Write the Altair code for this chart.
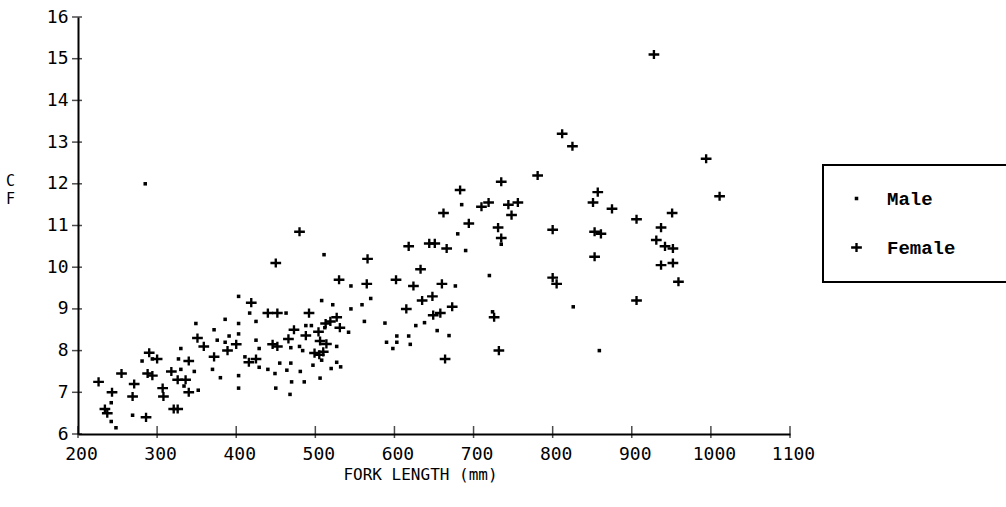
import altair as alt
import pandas as pd

# ---- data (fork length mm, condition factor) ----
female_fl = [226, 243, 234, 237, 255, 271, 269, 286, 290, 300, 288, 294, 307, 308, 318, 326, 336,
             321, 326, 340, 340, 351, 359, 372, 389, 400, 419, 416, 425, 446, 452, 440, 452, 492,
             473, 466, 488, 480, 450, 504, 506, 514, 499, 505, 510, 513, 519, 527, 531, 530, 565,
             566, 602, 633, 624, 660, 648, 635, 615, 673, 649, 658, 664, 618, 644, 651, 666, 662,
             683, 694, 710, 719, 744, 756, 748, 731, 735, 735, 781, 726, 732, 800, 800, 805, 851,
             857, 875, 906, 951, 937, 853, 861, 931, 942, 952, 853, 937, 952, 959, 906, 994, 1011,
             928, 812, 825]
female_cf = [7.25, 7.0, 6.6, 6.5, 7.45, 7.2, 6.9, 6.4, 7.95, 7.8, 7.45, 7.4, 7.1, 6.9, 7.5, 7.3, 7.3,
             6.6, 6.6, 7.0, 7.75, 8.3, 8.1, 7.85, 8.0, 8.15, 9.15, 7.72, 7.8, 8.15, 8.1, 8.9, 8.9, 8.9,
             8.5, 8.28, 8.36, 10.85, 10.1, 8.45, 8.23, 8.16, 7.94, 7.9, 7.97, 8.65, 8.7, 8.8, 8.55, 9.7, 9.6,
             10.2, 9.7, 9.95, 9.55, 9.6, 9.3, 9.2, 9.0, 9.05, 8.85, 8.9, 7.8, 10.5, 10.57, 10.57, 10.45, 11.3,
             11.85, 11.05, 11.45, 11.55, 11.5, 11.55, 11.25, 10.95, 10.7, 12.05, 12.2, 8.8, 8.0, 10.9, 9.75, 9.6, 11.55,
             11.8, 11.4, 11.15, 11.3, 10.95, 10.85, 10.8, 10.65, 10.5, 10.45, 10.25, 10.05, 10.1, 9.65, 9.2, 12.6, 11.7,
             15.1, 13.2, 12.9]

male_fl = [242, 242, 248, 269, 281, 294, 330, 327, 330, 347, 334, 352, 349, 372, 386, 391, 376, 386,
           403, 403, 403, 370, 380, 403, 403, 417, 411, 425, 463, 488, 425, 429, 429, 440, 449, 455,
           469, 464, 480, 484, 469, 481, 470, 486, 450, 468, 285, 511, 545, 570, 559, 545, 522, 508,
           562, 512, 495, 542, 527, 508, 497, 520, 532, 527, 506, 590, 603, 603, 618, 598, 620, 627,
           638, 654, 669, 588, 685, 680, 735, 690, 720, 677, 724, 826, 859]
male_cf = [6.75, 6.3, 6.15, 6.45, 7.75, 7.8, 8.05, 7.8, 7.55, 7.5, 7.15, 7.05, 8.65, 8.5, 8.75, 8.35, 8.25, 8.2,
           9.3, 8.65, 8.4, 7.55, 7.35, 7.4, 7.1, 8.9, 7.85, 8.7, 8.9, 8.6, 8.25, 8.05, 7.6, 7.55, 7.45, 7.7,
           7.7, 7.53, 8.1, 8.0, 8.07, 7.5, 7.25, 7.25, 7.1, 6.95, 12.0, 10.3, 9.55, 9.25, 9.1, 9.0, 9.1, 9.2,
           8.7, 8.55, 8.6, 8.44, 8.1, 7.77, 7.65, 7.57, 7.61, 7.72, 7.34, 8.2, 8.2, 8.35, 8.35, 8.05, 8.15, 8.6,
           8.67, 8.48, 8.36, 8.66, 11.5, 10.8, 10.55, 10.4, 9.8, 9.55, 8.93, 9.05, 8.0]

x_ticks = [200, 300, 400, 500, 600, 700, 800, 900, 1000, 1100]
y_ticks = [6, 7, 8, 9, 10, 11, 12, 13, 14, 15, 16]
groups = ["Male", "Female"]

df = pd.concat([
    pd.DataFrame({"fl": male_fl, "cf": male_cf, "sex": groups[0]}),
    pd.DataFrame({"fl": female_fl, "cf": female_cf, "sex": groups[1]}),
])
xt = pd.DataFrame({"fl": x_ticks})
yt = pd.DataFrame({"cf": y_ticks})

PLUS = "M-1,-0.23L1,-0.23L1,0.23L-1,0.23Z M-0.22,-0.85L0.22,-0.85L0.22,0.85L-0.22,0.85Z"
DOT = "M-0.33,-0.33L0.33,-0.33L0.33,0.33L-0.33,0.33Z"
MONO = "DejaVu Sans Mono"

xscale = alt.Scale(domain=[200, 1100], nice=False, zero=False)
yscale = alt.Scale(domain=[6, 16], nice=False, zero=False)

x_axis = alt.Axis(values=x_ticks, format="d", title="FORK LENGTH (mm)", ticks=False, grid=False,
                  domainColor="black", domainWidth=2, labelFont=MONO, labelFontSize=18,
                  labelColor="black", labelPadding=11, labelFlush=False, labelOffset=3,
                  titleFont=MONO, titleFontSize=16, titleFontWeight="normal", titleColor="black",
                  titlePadding=3, titleX=342)
y_axis = alt.Axis(values=y_ticks, format="d", title=["C", "F"], ticks=False, grid=False,
                  domainColor="black", domainWidth=2, labelFont=MONO, labelFontSize=18,
                  labelColor="black", labelPadding=10, labelFlush=False,
                  titleFont=MONO, titleFontSize=15, titleFontWeight="normal", titleColor="black",
                  titleAngle=0, titleAlign="center", titleBaseline="top", titleX=-68, titleY=156,
                  titleLineHeight=18)

points = alt.Chart(df).mark_point(filled=True, opacity=1, size=115, color="black").encode(
    x=alt.X("fl:Q", scale=xscale, axis=x_axis),
    y=alt.Y("cf:Q", scale=yscale, axis=y_axis),
    shape=alt.Shape("sex:N", scale=alt.Scale(domain=groups, range=[DOT, PLUS]),
                    legend=alt.Legend(title=" ", titleOrient="right", titlePadding=70,
                                      orient="none", legendX=745, legendY=148,
                                      strokeColor="black", fillColor="white",
                                      padding=24, rowPadding=29, labelFont="Liberation Mono",
                                      labelFontWeight="bold", labelFontSize=19, labelColor="black",
                                      labelOffset=21, symbolSize=115, symbolFillColor="black",
                                      symbolStrokeWidth=0)),
)

yticks_layer = alt.Chart(yt).mark_tick(color="black", thickness=1.5, size=10).encode(
    y=alt.Y("cf:Q", scale=yscale, axis=y_axis), x=alt.value(-1))
xticks_layer = alt.Chart(xt).mark_tick(color="black", thickness=1.5, size=12).encode(
    x=alt.X("fl:Q", scale=xscale, axis=x_axis), y=alt.value(415))

chart = alt.layer(points, yticks_layer, xticks_layer).properties(
    width=712, height=417,
    autosize=alt.AutoSizeParams(type="none"),
    padding={"left": 78, "top": 17, "right": 216, "bottom": 73},
    background="white",
).configure_view(stroke=None).configure_legend(strokeWidth=2)

chart.save("out.html", embed_options={"renderer": "svg", "actions": False})
